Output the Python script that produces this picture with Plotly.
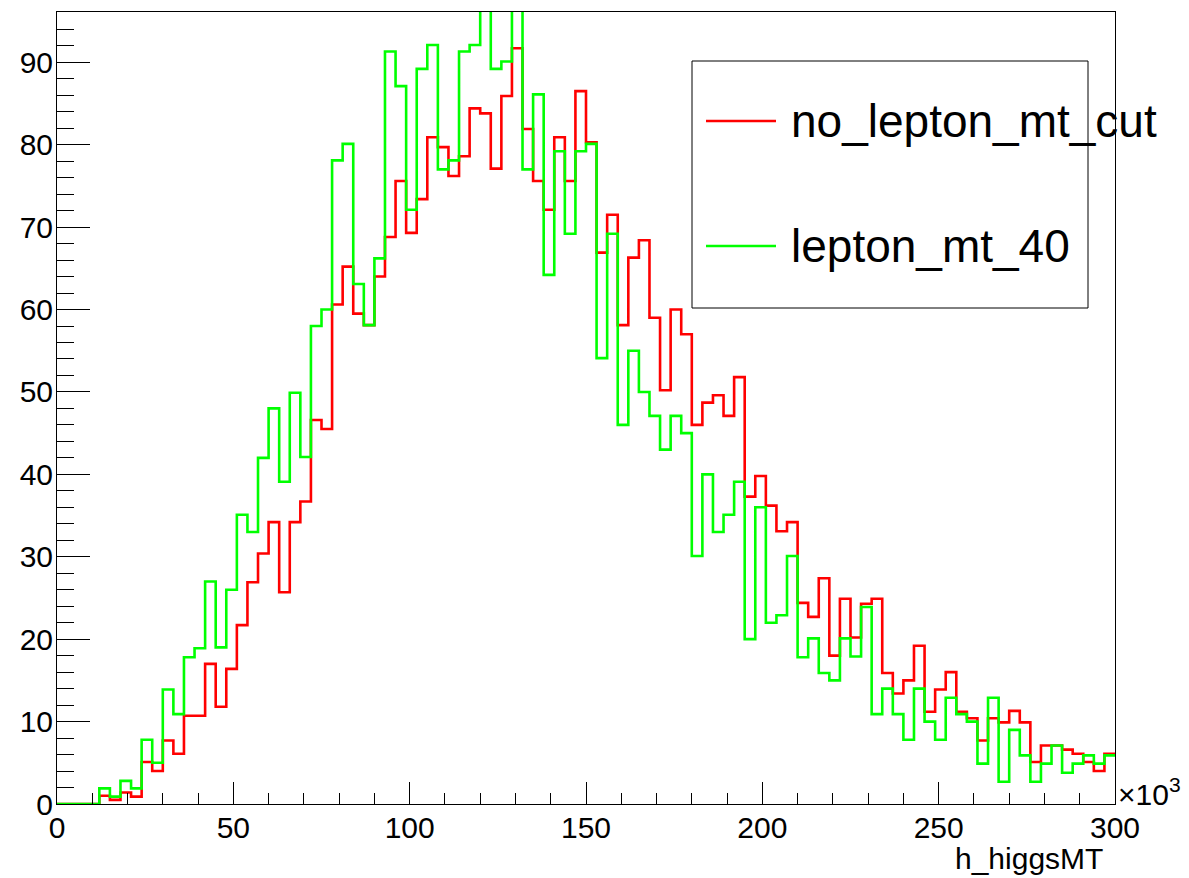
import numpy as np
import plotly.graph_objects as go

# ---- data (bin contents, x in units of 10^3) ----
BIN_LOW = 0
BIN_HIGH = 300
N_BINS = 100

no_lepton_mt_cut = [
    0, 0, 0, 0, 1.0, 0.5, 1.4, 0.9, 5.1, 4.0,
    7.7, 6.1, 10.7, 10.7, 17.0, 11.8, 16.4, 21.7, 26.9, 30.4,
    34.2, 25.7, 34.2, 36.7, 46.6, 45.5, 60.6, 65.2, 59.5, 58.1,
    64.0, 68.8, 75.6, 69.3, 73.4, 80.9, 79.7, 76.2, 78.6, 84.4,
    83.8, 77.1, 85.9, 91.7, 81.9, 75.6, 72.1, 80.9, 75.6, 86.5,
    80.3, 66.9, 71.5, 58.1, 66.3, 68.4, 59.0, 50.2, 60.0, 57.0,
    46.0, 48.7, 49.6, 47.1, 51.8, 37.3, 39.8, 36.2, 33.1, 34.2,
    24.4, 22.7, 27.4, 18.0, 24.9, 20.2, 24.3, 24.9, 15.9, 13.4,
    15.0, 19.2, 11.2, 13.9, 16.0, 11.2, 10.4, 7.7, 10.4, 9.9,
    11.3, 9.9, 5.1, 7.1, 7.1, 6.6, 6.1, 5.1, 4.0, 6.1,
]

lepton_mt_40 = [
    0, 0, 0, 0, 1.9, 0.9, 2.8, 1.9, 7.8, 5.0,
    13.9, 10.9, 17.8, 18.9, 27.0, 19.0, 26.0, 35.1, 33.0, 42.0,
    48.0, 39.1, 49.9, 42.1, 58.0, 60.0, 78.1, 80.1, 63.1, 58.1,
    66.2, 91.3, 87.1, 72.1, 89.2, 92.1, 77.0, 78.1, 91.3, 92.1,
    100.0, 89.2, 90.1, 100.0, 77.0, 86.1, 64.2, 79.2, 69.2, 79.2,
    80.1, 54.1, 69.2, 46.0, 55.0, 50.0, 47.1, 43.0, 47.1, 45.0,
    30.1, 40.0, 33.0, 35.1, 39.1, 20.0, 36.0, 22.0, 22.9, 30.1,
    17.8, 20.1, 15.9, 15.0, 20.1, 17.9, 23.9, 10.9, 14.0, 10.9,
    7.8, 14.0, 10.0, 7.8, 12.9, 10.9, 10.0, 4.9, 12.9, 2.7,
    9.0, 5.9, 2.7, 4.9, 7.1, 3.8, 4.9, 5.9, 4.9, 5.9,
]

series_names = ["no_lepton_mt_cut", "lepton_mt_40"]
series_colors = ["#ff0000", "#00ff00"]
x_title = "h_higgsMT"
Y_MAX = 96.1

edges = np.linspace(BIN_LOW, BIN_HIGH, N_BINS + 1)


def step_xy(vals):
    return list(edges), list(vals) + [vals[-1]]


FONT = "Liberation Sans, Arial, Helvetica, sans-serif"

fig = go.Figure()
for name, vals, col in zip(series_names, [no_lepton_mt_cut, lepton_mt_40], series_colors):
    xs, ys = step_xy(vals)
    fig.add_trace(go.Scatter(x=xs, y=ys, mode="lines", name=name,
                             line=dict(color=col, width=2.6, shape="hv"),
                             showlegend=False))

# page body has an 8px margin, so the figure starts at page (8, 8)
OFF = 8
W, H = 1189 - OFF, 878 - OFF
L, T = 57 - OFF, 12 - OFF
R = W - (1115 - OFF)
B = H - (804 - OFF)
pw = W - L - R
ph = H - T - B


def px(x):
    """page pixel x -> paper coordinate"""
    return (x - OFF - L) / pw


def py(y):
    """page pixel y -> paper coordinate"""
    return (H - B - (y - OFF)) / ph


fig.update_layout(
    width=W, height=H,
    margin=dict(l=L, r=R, t=T, b=B, pad=0, autoexpand=False),
    paper_bgcolor="white", plot_bgcolor="white",
    font=dict(family=FONT, size=30, color="black"),
    xaxis=dict(range=[BIN_LOW, BIN_HIGH], showgrid=False, zeroline=False,
               showline=True, linecolor="black", linewidth=1, mirror=True,
               ticks="inside", ticklen=22, tickwidth=1, tickcolor="black",
               tick0=0, dtick=50, ticklabelstandoff=-3,
               tickfont=dict(family=FONT, size=30, color="black"),
               minor=dict(ticks="inside", ticklen=11, dtick=10, tickcolor="black",
                          tickwidth=1, showgrid=False)),
    yaxis=dict(range=[0, Y_MAX], showgrid=False, zeroline=False,
               showline=True, linecolor="black", linewidth=1, mirror=True,
               ticks="inside", ticklen=33, tickwidth=1, tickcolor="black",
               tick0=0, dtick=10, ticklabelstandoff=-3,
               tickfont=dict(family=FONT, size=30, color="black"),
               minor=dict(ticks="inside", ticklen=17, dtick=2, tickcolor="black",
                          tickwidth=1, showgrid=False)),
)

shapes = [
    dict(type="rect", xref="paper", yref="paper",
         x0=px(692), x1=px(1088), y0=py(308), y1=py(61),
         line=dict(color="black", width=1), fillcolor="rgba(0,0,0,0)"),
    dict(type="line", xref="paper", yref="paper",
         x0=px(706), x1=px(776), y0=py(121), y1=py(121),
         line=dict(color=series_colors[0], width=2.6)),
    dict(type="line", xref="paper", yref="paper",
         x0=px(706), x1=px(776), y0=py(246), y1=py(246),
         line=dict(color=series_colors[1], width=2.6)),
]

annotations = [
    dict(text=series_names[0], xref="paper", yref="paper", x=px(789), y=py(121),
         xanchor="left", yanchor="middle", showarrow=False,
         font=dict(family=FONT, size=46, color="black")),
    dict(text=series_names[1], xref="paper", yref="paper", x=px(789), y=py(246),
         xanchor="left", yanchor="middle", showarrow=False,
         font=dict(family=FONT, size=46, color="black")),
    dict(text="×10<sup>3</sup>", xref="paper", yref="paper", x=px(1116), y=py(792),
         xanchor="left", yanchor="middle", showarrow=False,
         font=dict(family=FONT, size=30, color="black")),
    dict(text=x_title, xref="paper", yref="paper", x=px(1105), y=py(858),
         xanchor="right", yanchor="middle", showarrow=False,
         font=dict(family=FONT, size=30, color="black")),
]

fig.update_layout(shapes=shapes, annotations=annotations)

fig.write_html("out.html")
